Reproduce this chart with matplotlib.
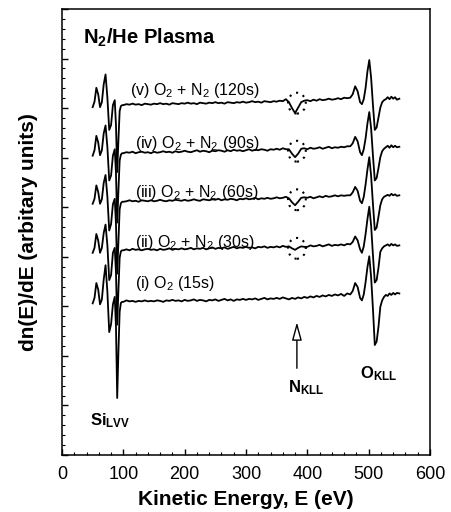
import matplotlib
matplotlib.use("Agg")
import matplotlib.pyplot as plt
import numpy as np
from matplotlib.patches import Ellipse

plt.rcParams['font.family'] = ['Liberation Sans', 'DejaVu Sans']
plt.rcParams['mathtext.default'] = 'regular'

# ---------------- data ----------------
energy_si = [50, 53, 56, 59, 62, 65, 68, 71, 74, 77, 80, 83, 86, 88, 90, 92, 94, 96, 98]
energy_flat = list(range(100, 470, 5))
energy_o = [470, 474, 478, 482, 486, 489, 492, 495, 498, 501, 504, 507, 510,
            513, 516, 519, 522, 525, 528, 531, 534, 537, 540, 543, 546, 550]

labels = [r"(i) O$_2$ (15s)",
          r"(ii) O$_2$ + N$_2$ (30s)",
          r"(iii) O$_2$ + N$_2$ (60s)",
          r"(iv) O$_2$ + N$_2$ (90s)",
          r"(v) O$_2$ + N$_2$ (120s)"]
offsets = [3.09, 4.13, 5.11, 6.09, 7.06]
has_n_peak = [False, True, True, True, True]

si_i = [-0.03, 0.08, 0.38, 0.25, -0.05, 0.05, 0.45, 0.74, 0.20, -0.61, -0.45, -0.05, 0.10, -0.50, -1.94, -1.00, -0.20, -0.02, 0.00]
si_ii = [-0.05, 0.05, 0.33, 0.20, -0.05, 0.05, 0.35, 0.52, 0.10, -0.60, -0.50, -0.05, 0.05, -0.45, -1.50, -0.80, -0.15, -0.02, 0.00]
si_iii = [-0.04, 0.06, 0.33, 0.20, -0.04, 0.05, 0.38, 0.54, 0.10, -0.58, -0.45, -0.05, 0.06, -0.45, -1.45, -0.80, -0.15, -0.03, 0.00]
si_iv = [-0.05, 0.06, 0.35, 0.22, -0.04, 0.06, 0.40, 0.56, 0.12, -0.55, -0.45, -0.05, 0.08, -0.40, -1.40, -0.75, -0.15, -0.03, 0.00]
si_v = [-0.04, 0.07, 0.35, 0.22, -0.04, 0.06, 0.42, 0.62, 0.15, -0.50, -0.40, 0.00, 0.10, -0.40, -1.35, -0.70, -0.12, -0.02, 0.00]

flat_i = [0.00, 0.03, 0.01, 0.02, 0.00, 0.02, 0.01, 0.03, 0.01, 0.02,
          0.01, 0.03, 0.02, 0.00, 0.03, 0.02, 0.04, 0.02, 0.03, 0.01,
          0.04, 0.02, 0.03, 0.05, 0.02, 0.04, 0.03, 0.01, 0.04, 0.03,
          0.05, 0.02, 0.04, 0.06, 0.03, 0.05, 0.02, 0.05, 0.04, 0.06,
          0.04, 0.06, 0.05, 0.07, 0.04, 0.06, 0.08, 0.05, 0.07, 0.06,
          0.08, 0.06, 0.09, 0.07, 0.05, 0.08, 0.06, 0.09, 0.07, 0.10,
          0.08, 0.11, 0.09, 0.12, 0.10, 0.13, 0.11, 0.14, 0.12, 0.15,
          0.13, 0.16, 0.12, 0.17]
flat_ii = [0.00, 0.02, 0.00, 0.03, 0.01, 0.02, 0.00, 0.02, 0.03, 0.01,
           0.02, 0.00, 0.03, 0.01, 0.02, 0.04, 0.01, 0.03, 0.02, 0.04,
           0.02, 0.03, 0.05, 0.02, 0.04, 0.03, 0.05, 0.02, 0.04, 0.06,
           0.03, 0.05, 0.04, 0.06, 0.03, 0.05, 0.07, 0.04, 0.06, 0.05,
           0.07, 0.05, 0.06, 0.04, 0.07, 0.06, 0.08, 0.05, 0.07, 0.06,
           0.08, 0.06, 0.09, 0.07, 0.08, 0.04, 0.01, 0.05, 0.08, 0.07,
           0.07, 0.10, 0.08, 0.09, 0.11, 0.08, 0.10, 0.12, 0.09, 0.11,
           0.10, 0.12, 0.10, 0.13]
flat_iii = [0.00, 0.01, 0.03, 0.01, 0.02, 0.00, 0.03, 0.02, 0.01, 0.03,
            0.01, 0.02, 0.04, 0.02, 0.01, 0.03, 0.02, 0.04, 0.03, 0.02,
            0.04, 0.02, 0.03, 0.05, 0.03, 0.02, 0.05, 0.04, 0.03, 0.05,
            0.04, 0.06, 0.03, 0.05, 0.04, 0.06, 0.05, 0.03, 0.06, 0.05,
            0.07, 0.05, 0.06, 0.08, 0.05, 0.07, 0.06, 0.08, 0.06, 0.07,
            0.09, 0.07, 0.08, 0.10, 0.07, -0.01, -0.07, 0.00, 0.08, 0.09,
            0.08, 0.10, 0.07, 0.09, 0.11, 0.09, 0.12, 0.10, 0.11, 0.13,
            0.11, 0.13, 0.12, 0.13]
flat_iv = [0.00, 0.02, 0.01, 0.03, 0.00, 0.02, 0.03, 0.01, 0.02, 0.00,
           0.03, 0.01, 0.02, 0.04, 0.02, 0.03, 0.01, 0.04, 0.02, 0.03,
           0.05, 0.03, 0.02, 0.04, 0.06, 0.03, 0.05, 0.04, 0.02, 0.05,
           0.04, 0.06, 0.05, 0.03, 0.06, 0.04, 0.07, 0.05, 0.06, 0.04,
           0.06, 0.08, 0.05, 0.07, 0.06, 0.08, 0.07, 0.05, 0.08, 0.07,
           0.09, 0.07, 0.10, 0.08, 0.08, -0.01, -0.08, -0.01, 0.09, 0.10,
           0.08, 0.11, 0.09, 0.10, 0.12, 0.09, 0.11, 0.13, 0.10, 0.12,
           0.11, 0.13, 0.12, 0.14]
flat_v = [0.00, 0.02, 0.01, 0.03, 0.01, 0.02, 0.00, 0.03, 0.02, 0.01,
          0.03, 0.02, 0.04, 0.02, 0.03, 0.01, 0.04, 0.03, 0.02, 0.04,
          0.03, 0.05, 0.03, 0.04, 0.02, 0.05, 0.04, 0.03, 0.05, 0.04,
          0.06, 0.04, 0.05, 0.03, 0.06, 0.05, 0.04, 0.06, 0.05, 0.07,
          0.05, 0.06, 0.08, 0.06, 0.07, 0.05, 0.08, 0.07, 0.06, 0.08,
          0.07, 0.09, 0.08, 0.12, 0.06, -0.06, -0.16, -0.05, 0.06, 0.09,
          0.10, 0.08, 0.11, 0.09, 0.12, 0.10, 0.11, 0.13, 0.11, 0.12,
          0.14, 0.12, 0.15, 0.14]

o_i = [0.15, 0.22, 0.38, 0.30, 0.08, 0.03, 0.15, 0.40, 0.70, 0.92, 0.50, -0.15, -0.87,
       -0.80, -0.50, -0.10, 0.03, 0.10, 0.14, 0.12, 0.17, 0.14, 0.18, 0.15, 0.18, 0.17]
o_ii = [0.12, 0.17, 0.28, 0.20, 0.02, -0.05, 0.08, 0.33, 0.63, 0.88, 0.50, -0.10, -0.65,
        -0.60, -0.35, -0.03, 0.04, 0.08, 0.10, 0.12, 0.09, 0.13, 0.10, 0.12, 0.09, 0.10]
o_iii = [0.13, 0.19, 0.30, 0.22, 0.02, -0.03, 0.10, 0.35, 0.65, 0.90, 0.52, -0.05, -0.57,
         -0.52, -0.30, -0.07, 0.05, 0.10, 0.12, 0.14, 0.12, 0.16, 0.13, 0.15, 0.12, 0.13]
o_iv = [0.14, 0.20, 0.33, 0.24, 0.02, -0.04, 0.08, 0.30, 0.60, 0.83, 0.50, -0.05, -0.55,
        -0.50, -0.30, -0.08, 0.04, 0.09, 0.12, 0.15, 0.11, 0.16, 0.12, 0.15, 0.12, 0.13]
o_v = [0.15, 0.22, 0.38, 0.28, 0.06, 0.02, 0.12, 0.35, 0.68, 0.91, 0.55, 0.00, -0.50,
       -0.45, -0.25, -0.05, 0.06, 0.10, 0.12, 0.16, 0.12, 0.17, 0.13, 0.16, 0.11, 0.13]

si_parts = [si_i, si_ii, si_iii, si_iv, si_v]
flat_parts = [flat_i, flat_ii, flat_iii, flat_iv, flat_v]
o_parts = [o_i, o_ii, o_iii, o_iv, o_v]

label_x = [119, 119, 119, 119, 111]
label_y = [3.37, 4.19, 5.20, 6.19, 7.26]

# ---------------- figure ----------------
fig = plt.figure(figsize=(4.51, 5.12), dpi=100)
ax = fig.add_axes([62 / 451, 1 - 455 / 512, 368 / 451, 446 / 512])

energy = energy_si + energy_flat + energy_o
for k in range(5):
    vals = np.array(si_parts[k] + flat_parts[k] + o_parts[k]) + offsets[k]
    ax.plot(energy, vals, color='black', lw=1.3)
    ax.text(label_x[k], label_y[k], labels[k], fontsize=11.5, ha='left', va='baseline')
    if has_n_peak[k]:
        ax.add_patch(Ellipse((383, offsets[k] + 0.04), 29, 0.42, fill=False,
                             ec='black', lw=1.5, ls=(0, (1, 2.5))))

ax.text(34, 8.3, r"N$_2$/He Plasma", fontsize=14.5, fontweight='bold', ha='left', va='baseline')
ax.text(45.6, 0.6, r"Si$_{LVV}$", fontsize=12, fontweight='bold', ha='left', va='baseline')
ax.text(368.5, 1.27, r"N$_{KLL}$", fontsize=12, fontweight='bold', ha='left', va='baseline')
ax.text(486, 1.55, r"O$_{KLL}$", fontsize=12, fontweight='bold', ha='left', va='baseline')

ax.annotate('', xy=(383, 2.68), xytext=(383, 1.75),
            arrowprops=dict(arrowstyle='-|>,head_length=1.1,head_width=0.3',
                            mutation_scale=10, fc='white', ec='black', lw=1.0,
                            shrinkA=0, shrinkB=0))

ax.set_xlim(0, 600)
ax.set_ylim(0, 9)
ax.set_xticks(range(0, 601, 100))
ax.set_xticks(range(0, 601, 20), minor=True)
ax.set_yticks(np.arange(0, 9.01, 1))
ax.set_yticks(np.arange(0, 9.01, 0.2), minor=True)
ax.tick_params(axis='both', which='both', direction='in', top=False, right=False)
ax.tick_params(axis='both', which='major', length=4, width=1)
ax.tick_params(axis='both', which='minor', length=2.2, width=0.8)
ax.tick_params(axis='x', labelsize=13, pad=8)
ax.tick_params(axis='y', labelleft=False)
for s in ax.spines.values():
    s.set_linewidth(1.1)

ax.set_xlabel("Kinetic Energy, E (eV)", fontsize=15, fontweight='bold')
ax.set_ylabel("dn(E)/dE (arbitary units)", fontsize=15, fontweight='bold')
ax.xaxis.set_label_coords(0.5, -0.078)
ax.yaxis.set_label_coords(-0.065, 0.5)

fig.savefig("out.png", dpi=100)
